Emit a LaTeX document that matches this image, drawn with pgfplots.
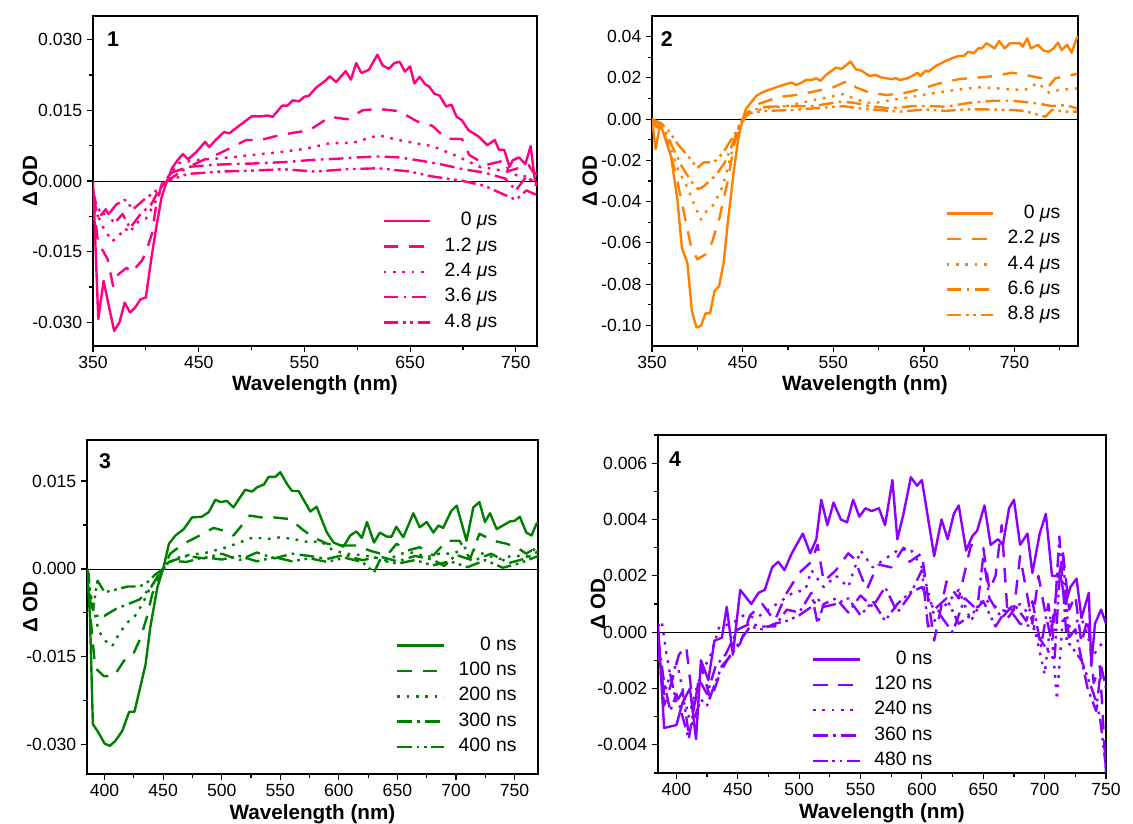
\documentclass[border=0pt]{standalone}
\usepackage{fontspec}
\setmainfont{Liberation Sans}
\usepackage{pgfplots}
\pgfplotsset{compat=1.18}
\definecolor{c1}{RGB}{255,0,128}
\definecolor{c2}{RGB}{255,128,0}
\definecolor{c3}{RGB}{0,128,0}
\definecolor{c4}{RGB}{140,0,255}
\tikzset{
 sdash/.style={dash pattern=on 11pt off 8pt},
 sdot/.style={dash pattern=on 2pt off 5pt},
 sdd/.style={dash pattern=on 11pt off 4pt on 2pt off 4pt},
 sddd/.style={dash pattern=on 11pt off 3.5pt on 2pt off 3.5pt on 2pt off 3.5pt},
}
\pgfplotsset{
 panel/.style={scale only axis, anchor=south west,
  axis line style={line width=1.1pt},
  tick style={line width=0.9pt, black},
  tick align=outside, xtick pos=bottom, ytick pos=left,
  major tick length=4.5pt, minor tick length=3pt,
  scaled y ticks=false, scaled x ticks=false,
  tick label style={font=\fontsize{13.2}{15}\selectfont},
  /pgf/number format/assume math mode=true,
  xlabel={\textbf{Wavelength (nm)}}, ylabel={\textbf{Δ OD}},
  label style={font=\fontsize{15.5}{17}\selectfont},
  xlabel style={at={(axis description cs:0.5,-0.118)}, anchor=center},
  legend style={draw=none, fill=none, font=\fontsize{14.5}{16}\selectfont,
   cells={anchor=east}, row sep=4pt, column sep=9pt, inner sep=0pt,
   nodes={inner sep=1pt, text height=10pt, text depth=3pt}},
  legend image code/.code={\draw[##1] (0pt,0pt) -- (35pt,0pt);},
  every axis plot/.append style={line width=1.8pt, line join=round},
 },
}
\begin{document}
\begin{tikzpicture}
\useasboundingbox (0,0) rectangle (849.75pt,618pt);
% ---------------- Panel 1 ----------------
\begin{axis}[panel, at={(69.75pt,358.5pt)}, width=333pt, height=247.5pt,
 xmin=350, xmax=770, ymin=-0.035, ymax=0.035,
 xtick={350,450,550,650,750}, minor xtick={400,500,600,700},
 ytick={-0.03,-0.015,0,0.015,0.03}, minor ytick={-0.0225,-0.0075,0.0075,0.0225},
 yticklabel style={/pgf/number format/.cd, fixed, fixed zerofill, precision=3},
 ylabel style={at={(axis description cs:-0.142,0.5)}, anchor=center},
 legend style={at={(axis description cs:0.914,0.409)}, anchor=north east}]
\addplot[forget plot, black, line width=0.6pt] coordinates {(350,0) (770,0)};
\addplot[c1] coordinates {(350,0) (355,-0.0293) (360,-0.0212) (370,-0.0318) (375,-0.0300) (380,-0.0258) (385,-0.0279) (390,-0.0268) (395,-0.0251) (400,-0.0247) (405,-0.0167) (410,-0.0096) (415,-0.0033) (420,0.0000) (425,0.0028) (430,0.0044) (435,0.0057) (440,0.0046) (448,0.0062) (456,0.0083) (460,0.0072) (466,0.0087) (474,0.0104) (479,0.0101) (487,0.0115) (500,0.0137) (509,0.0137) (515,0.0139) (520,0.0136) (529,0.0160) (534,0.0160) (539,0.0171) (545,0.0169) (550,0.0179) (554,0.0180) (561,0.0198) (570,0.0213) (574,0.0222) (580,0.0210) (589,0.0233) (594,0.0215) (599,0.0250) (604,0.0229) (611,0.0236) (619,0.0268) (624,0.0245) (630,0.0238) (635,0.0250) (640,0.0253) (645,0.0232) (650,0.0243) (654,0.0207) (659,0.0221) (664,0.0206) (668,0.0200) (673,0.0185) (678,0.0181) (684,0.0158) (689,0.0162) (694,0.0136) (699,0.0129) (705,0.0108) (715,0.0094) (723,0.0076) (730,0.0087) (734,0.0066) (739,0.0066) (744,0.0030) (747,0.0044) (753,0.0050) (759,0.0036) (764,0.0074) (768,0.0002) (770,-0.0010)};
\addlegendentry{0 \textit{μ}s}
\addplot[c1, sdash] coordinates {(350,-0.004) (355,-0.0135) (360,-0.0150) (364,-0.0167) (369,-0.0223) (374,-0.0198) (382,-0.0184) (386,-0.0194) (396,-0.0170) (400,-0.0152) (406,-0.0110) (410,-0.0047) (416,0.0000) (425,0.0018) (440,0.0030) (455,0.0045) (470,0.0059) (495,0.0087) (509,0.0087) (526,0.0097) (555,0.0108) (574,0.0136) (591,0.0131) (605,0.0150) (620,0.0153) (640,0.0148) (656,0.0127) (671,0.0117) (684,0.0090) (699,0.0089) (706,0.0055) (722,0.0034) (740,0.0044) (743,0.0021) (762,0.0034) (767,0.0017) (770,0.0015)};
\addlegendentry{1.2 \textit{μ}s}
\addplot[c1, sdot] coordinates {(350,-0.002) (352,-0.0060) (359,-0.0096) (368,-0.0128) (374,-0.0118) (380,-0.0100) (385,-0.0110) (390,-0.0090) (400,-0.0080) (410,-0.0040) (418,0.0000) (431,0.0038) (450,0.0045) (470,0.0048) (500,0.0055) (526,0.0061) (550,0.0068) (574,0.0080) (596,0.0081) (620,0.0097) (639,0.0087) (655,0.0080) (671,0.0074) (694,0.0053) (716,0.0030) (730,0.0025) (744,0.0019) (755,0.0008) (762,0.0012) (768,-0.0010) (770,-0.0008)};
\addlegendentry{2.4 \textit{μ}s}
\addplot[c1, sdd] coordinates {(350,-0.003) (355,-0.008) (362,-0.006) (370,-0.009) (378,-0.007) (385,-0.010) (395,-0.007) (405,-0.005) (412,-0.002) (420,0.000) (440,0.0030) (470,0.0035) (500,0.0037) (530,0.0040) (560,0.0045) (580,0.0047) (600,0.0050) (620,0.0052) (640,0.0050) (660,0.0043) (680,0.0035) (700,0.0025) (720,0.0018) (740,0.0005) (750,-0.0020) (760,0.0010) (770,-0.0010)};
\addlegendentry{3.6 \textit{μ}s}
\addplot[c1, sddd] coordinates {(350,-0.002) (353,-0.005) (358,-0.007) (365,-0.007) (372,-0.005) (380,-0.004) (388,-0.006) (398,-0.004) (410,-0.002) (420,0.000) (440,0.0015) (470,0.0020) (500,0.0022) (530,0.0025) (560,0.0020) (590,0.0025) (620,0.0027) (650,0.0020) (670,0.0010) (700,0.0000) (720,-0.0010) (740,-0.0030) (750,-0.0040) (760,-0.0020) (770,-0.0030)};
\addlegendentry{4.8 \textit{μ}s}
\node[font=\bfseries\fontsize{16}{18}\selectfont] at (axis description cs:0.045,0.93) {1};
\end{axis}
% ---------------- Panel 2 ----------------
\begin{axis}[panel, at={(489pt,358.5pt)}, width=319.5pt, height=247.5pt,
 xmin=350, xmax=820, ymin=-0.11, ymax=0.05,
 xtick={350,450,550,650,750}, minor xtick={400,500,600,700,800},
 ytick={-0.1,-0.08,-0.06,-0.04,-0.02,0,0.02,0.04}, minor ytick={-0.09,-0.07,-0.05,-0.03,-0.01,0.01,0.03},
 yticklabel style={/pgf/number format/.cd, fixed, fixed zerofill, precision=2},
 ylabel style={at={(axis description cs:-0.146,0.5)}, anchor=center},
 legend style={at={(axis description cs:0.962,0.432)}, anchor=north east}]
\addplot[forget plot, black, line width=0.6pt] coordinates {(350,0) (820,0)};
\addplot[c2] coordinates {(350,0) (354,-0.0145) (359,-0.002) (371,-0.018) (378,-0.039) (383,-0.0624) (389,-0.0697) (394,-0.093) (399,-0.101) (404,-0.1003) (409,-0.0942) (414,-0.0942) (419,-0.0834) (424,-0.081) (429,-0.0697) (434,-0.0487) (440,-0.026) (445,-0.010) (450,0.000) (454,0.0052) (465,0.0112) (471,0.0128) (480,0.0144) (491,0.0160) (498,0.0170) (504,0.0177) (509,0.0165) (515,0.0177) (520,0.0190) (526,0.0190) (531,0.0198) (536,0.0186) (542,0.0214) (553,0.0250) (559,0.0243) (569,0.0279) (575,0.0241) (581,0.0235) (590,0.0209) (597,0.0214) (603,0.0202) (614,0.0194) (619,0.0198) (624,0.0190) (632,0.0198) (639,0.0214) (643,0.0225) (646,0.0209) (652,0.0235) (655,0.0230) (663,0.0257) (674,0.0282) (681,0.0295) (688,0.0306) (694,0.0306) (699,0.0327) (705,0.0319) (710,0.0343) (714,0.0343) (719,0.0368) (728,0.0343) (733,0.0379) (739,0.0343) (745,0.0368) (756,0.0368) (759,0.0351) (764,0.0392) (768,0.0343) (776,0.0360) (782,0.0332) (788,0.0327) (793,0.0343) (798,0.0371) (802,0.0335) (808,0.0360) (813,0.0322) (819,0.0397) (820,0.0400)};
\addlegendentry{0 \textit{μ}s}
\addplot[c2, sdash] coordinates {(350,0) (355,-0.004) (359,-0.002) (366,-0.010) (376,-0.026) (386,-0.047) (393,-0.0616) (400,-0.068) (409,-0.0656) (416,-0.060) (424,-0.0487) (433,-0.031) (441,-0.0116) (448,-0.002) (452,0.000) (454,0.0028) (469,0.0076) (491,0.0108) (509,0.0117) (528,0.0133) (550,0.0154) (566,0.0186) (575,0.0154) (590,0.0128) (608,0.0117) (627,0.0125) (645,0.0144) (667,0.0173) (689,0.0194) (711,0.0202) (729,0.0209) (747,0.0225) (762,0.0214) (780,0.0198) (788,0.0160) (795,0.0198) (819,0.0219)};
\addlegendentry{2.2 \textit{μ}s}
\addplot[c2, sdot] coordinates {(350,0) (355,-0.003) (362,-0.005) (371,-0.015) (379,-0.0245) (390,-0.034) (397,-0.042) (404,-0.0487) (411,-0.044) (418,-0.0415) (428,-0.0326) (437,-0.018) (444,-0.005) (450,0.000) (454,0.0020) (473,0.0052) (498,0.0063) (528,0.0092) (561,0.0121) (575,0.0096) (593,0.0076) (614,0.0092) (637,0.0108) (659,0.0125) (684,0.0141) (710,0.0154) (732,0.0149) (747,0.0144) (761,0.0141) (776,0.0176) (788,0.0128) (799,0.0141) (819,0.0149)};
\addlegendentry{4.4 \textit{μ}s}
\addplot[c2, sdd] coordinates {(350,0) (355,-0.002) (362,-0.003) (372,-0.013) (383,-0.023) (393,-0.030) (401,-0.034) (407,-0.0326) (421,-0.027) (431,-0.0205) (438,-0.013) (445,-0.005) (450,0.000) (458,0.0040) (476,0.0060) (505,0.0063) (528,0.0063) (557,0.0084) (572,0.0080) (590,0.0063) (612,0.0052) (637,0.0063) (659,0.0063) (674,0.0060) (702,0.0080) (728,0.0089) (747,0.0089) (776,0.0076) (791,0.0063) (806,0.0068) (819,0.0052)};
\addlegendentry{6.6 \textit{μ}s}
\addplot[c2, sddd] coordinates {(350,0) (355,-0.001) (360,-0.002) (369,-0.006) (379,-0.0125) (390,-0.018) (400,-0.0237) (407,-0.021) (418,-0.021) (428,-0.0166) (435,-0.0116) (442,-0.0068) (450,0.000) (458,0.0030) (476,0.0040) (505,0.0044) (528,0.0052) (561,0.0063) (579,0.0052) (601,0.0044) (623,0.0036) (652,0.0047) (674,0.0040) (696,0.0047) (718,0.0047) (747,0.0044) (761,0.0040) (784,0.0011) (791,0.0044) (806,0.0036) (819,0.0036)};
\addlegendentry{8.8 \textit{μ}s}
\node[font=\bfseries\fontsize{16}{18}\selectfont] at (axis description cs:0.035,0.93) {2};
\end{axis}
% ---------------- Panel 3 ----------------
\begin{axis}[panel, at={(65.25pt,37.5pt)}, width=338.25pt, height=250.5pt,
 xmin=385, xmax=770, ymin=-0.035, ymax=0.022,
 xtick={400,450,...,750}, minor xtick={425,475,...,725},
 ytick={-0.03,-0.015,0,0.015}, minor ytick={-0.0225,-0.0075,0.0075},
 yticklabel style={/pgf/number format/.cd, fixed, fixed zerofill, precision=3},
 ylabel style={at={(axis description cs:-0.126,0.5)}, anchor=center},
 xlabel style={at={(axis description cs:0.5,-0.12)}},
 legend style={at={(axis description cs:0.956,0.415)}, anchor=north east}]
\addplot[forget plot, black, line width=0.6pt] coordinates {(385,0) (770,0)};
\addplot[c3] coordinates {(385,0.000) (386,-0.003) (387.5,-0.008) (390,-0.0265) (395,-0.0280) (400,-0.0298) (404.5,-0.0302) (409,-0.0294) (415,-0.0277) (421,-0.0244) (425.5,-0.0244) (430,-0.0206) (435,-0.0163) (439,-0.0100) (445,-0.0032) (450,0.000) (455,0.0043) (460.5,0.0057) (467.6,0.0068) (474.7,0.0088) (483,0.0089) (489,0.0097) (494.6,0.0118) (499,0.0114) (504.5,0.0116) (510,0.0105) (520,0.0135) (526,0.0132) (530,0.0139) (536,0.0144) (540,0.0157) (545.7,0.0157) (550,0.0165) (555.7,0.0145) (560,0.0133) (565.6,0.0133) (575.6,0.0098) (581,0.0106) (589.8,0.0062) (595.5,0.0045) (604,0.0038) (609.7,0.0057) (615,0.0064) (619.6,0.0053) (624,0.0080) (630,0.0045) (635,0.0062) (641,0.0055) (645,0.0055) (649,0.0072) (655,0.0054) (663.6,0.0095) (669,0.0071) (675,0.0080) (680.7,0.0062) (685,0.0074) (689,0.0070) (696,0.0099) (700.6,0.0108) (709,0.0048) (714.8,0.0105) (720,0.0114) (724.7,0.0080) (729,0.0095) (734.7,0.0068) (740,0.0074) (746,0.0081) (750,0.0082) (754.5,0.0089) (760,0.0062) (764.5,0.0057) (768.7,0.0077) (770,0.0079)};
\addlegendentry{0 ns}
\addplot[c3, sdash] coordinates {(385,0.000) (386.6,-0.001) (388,-0.0083) (392,-0.0169) (399.4,-0.0183) (408,-0.0183) (416.5,-0.0157) (425,-0.0143) (430.7,-0.0118) (436,-0.0083) (440.6,-0.0044) (446,-0.0015) (450,0.000) (456,0.0026) (467.6,0.0043) (486,0.0062) (493,0.0070) (502,0.0065) (510,0.0057) (524,0.0091) (533,0.0088) (544,0.0088) (558.5,0.0085) (568.5,0.0068) (578,0.0054) (590,0.0043) (604,0.0040) (615,0.0040) (626.7,0.0031) (641,0.0023) (649.4,0.0043) (658,0.0031) (669,0.0037) (680.7,0.0023) (692,0.0048) (703,0.0048) (712,0.0017) (720,0.0060) (732,0.0048) (743,0.0043) (751.7,0.0037) (760,0.0026) (768.7,0.0037) (770,0.0038)};
\addlegendentry{100 ns}
\addplot[c3, sdot] coordinates {(385,0.000) (388,-0.0044) (395,-0.0106) (400.9,-0.0123) (406.5,-0.0132) (412,-0.0112) (419,-0.0092) (425,-0.0083) (432,-0.0061) (439,-0.0032) (447.7,-0.0010) (450,0.000) (459,0.0017) (470,0.0023) (487.5,0.0028) (504.5,0.0037) (527,0.0054) (538.6,0.0051) (550,0.0054) (561,0.0051) (575.6,0.0045) (584,0.0048) (595.5,0.0031) (607,0.0026) (621,0.0023) (629.5,0.0020) (641,0.0014) (652,0.0026) (663.6,0.0028) (675,0.0020) (686,0.0026) (697.7,0.0026) (709,0.0037) (717.6,0.0031) (726,0.0023) (737.5,0.0017) (749,0.0023) (760,0.0020) (768.7,0.0037) (770,0.0036)};
\addlegendentry{200 ns}
\addplot[c3, sdd] coordinates {(385,0.000) (388,-0.006) (393,-0.008) (400,-0.008) (410,-0.0068) (420,-0.006) (430,-0.0052) (440,-0.003) (446,-0.001) (450,0.000) (455,0.0012) (470,0.0022) (485,0.0018) (500,0.0026) (515,0.0015) (530,0.0028) (545,0.0018) (560,0.0026) (575,0.0022) (590,0.0017) (605,0.0024) (620,0.0015) (635,0.0021) (650,0.0013) (665,0.0022) (680,0.0016) (690,0.0005) (700,0.0024) (715,0.0014) (730,0.0026) (745,0.0010) (760,0.0018) (770,0.0030)};
\addlegendentry{300 ns}
\addplot[c3, sddd] coordinates {(385,0.000) (387,-0.003) (390,-0.007) (394,-0.002) (400,-0.004) (410,-0.0035) (420,-0.003) (430,-0.003) (437,-0.0022) (443,-0.001) (450,0.000) (455,0.0014) (470,0.0012) (485,0.0020) (500,0.0016) (515,0.0022) (530,0.0013) (545,0.0020) (560,0.0013) (575,0.0018) (590,0.0012) (605,0.0019) (620,0.0012) (630,-0.0006) (635,0.0015) (650,0.0009) (665,0.0015) (680,0.0006) (695,0.0013) (710,0.0003) (725,0.0015) (740,0.0002) (755,0.0010) (770,0.0022)};
\addlegendentry{400 ns}
\node[font=\bfseries\fontsize{16}{18}\selectfont] at (axis description cs:0.04,0.937) {3};
\end{axis}
% ---------------- Panel 4 ----------------
\begin{axis}[panel, at={(493.5pt,38.25pt)}, width=336pt, height=253.5pt,
 xmin=385, xmax=750, ymin=-0.005, ymax=0.007,
 xtick={400,450,...,750}, minor xtick={425,475,...,725},
 ytick={-0.004,-0.002,0,0.002,0.004,0.006}, minor ytick={-0.005,-0.003,-0.001,0.001,0.003,0.005,0.007},
 yticklabel style={/pgf/number format/.cd, fixed, fixed zerofill, precision=3},
 ylabel style={at={(axis description cs:-0.134,0.5)}, anchor=center},
 legend style={at={(axis description cs:0.616,0.366)}, anchor=north east}]
\addplot[forget plot, black, line width=0.6pt] coordinates {(385,0) (750,0)};
\addplot[c4] coordinates {(385,0.0003) (390,-0.0034) (400,-0.0033) (405,-0.0025) (411,-0.0020) (416,-0.0038) (420,-0.0010) (426,-0.0017) (431,-0.0003) (437,-0.0002) (441,0.0009) (446,-0.0008) (452,0.0015) (461,0.0010) (467,0.0014) (472,0.0015) (478,0.0023) (483,0.0025) (488,0.0022) (494,0.0028) (503,0.0035) (509,0.0028) (514,0.0033) (518,0.0047) (523,0.0038) (528,0.0046) (534,0.0040) (539,0.0039) (544,0.0047) (549,0.0041) (554,0.0044) (559,0.0043) (565,0.0044) (570,0.0038) (576,0.0054) (580,0.0033) (585,0.0042) (591,0.0055) (596,0.0052) (600,0.0054) (610,0.0027) (616,0.0040) (621,0.0033) (626,0.0042) (630,0.0045) (636,0.0029) (641,0.0034) (645,0.0036) (651,0.0045) (656,0.0031) (662,0.0033) (666,0.0031) (671,0.0044) (675,0.0047) (680,0.0031) (686,0.0035) (690,0.0021) (696,0.0035) (701,0.0042) (706,0.0020) (713,0.0020) (717,0.0010) (721,0.0016) (726,0.0019) (730,0.0005) (736,0.0014) (738,-0.0012) (741,0.0003) (746,0.0008) (750,0.0003)};
\addlegendentry{0 ns}
\addplot[c4, sdash] coordinates {(385,-0.0005) (390,-0.0026) (396,-0.0018) (402,-0.0008) (408,-0.0005) (414,-0.0028) (420,-0.0012) (428,-0.0024) (436,-0.0014) (444,-0.0008) (452,-0.0004) (460,0.0006) (470,0.0010) (480,0.0004) (490,0.0014) (500,0.0021) (510,0.0025) (515,0.0031) (520,0.0018) (530,0.0022) (540,0.0028) (545,0.0026) (555,0.0015) (560,0.0020) (565,0.0024) (575,0.0023) (585,0.0030) (590,0.0025) (600,0.0028) (605,0.0012) (610,-0.0003) (620,0.0018) (630,0.0012) (640,0.0031) (650,0.0030) (655,0.0015) (660,0.0020) (665,0.0038) (670,0.0005) (675,0.0008) (680,0.0027) (685,0.0015) (690,0.0003) (695,0.0020) (700,0.0008) (705,-0.0002) (710,0.0016) (715,0.0028) (720,0.0008) (725,0.0013) (730,-0.0004) (735,0.0005) (740,-0.0018) (745,-0.0012) (750,-0.0050)};
\addlegendentry{120 ns}
\addplot[c4, sdot] coordinates {(385,0.0002) (388,0.0004) (392,-0.0008) (396,-0.0018) (400,-0.0010) (405,-0.0020) (410,-0.0030) (415,-0.0022) (420,-0.0015) (428,-0.0008) (435,0.0002) (445,0.0003) (455,0.0006) (465,0.0005) (475,0.0008) (485,0.0011) (495,0.0014) (505,0.0015) (510,0.0022) (520,0.0016) (530,0.0020) (540,0.0016) (550,0.0029) (560,0.0023) (570,0.0026) (580,0.0029) (590,0.0030) (600,0.0023) (610,0.0006) (620,0.0010) (630,0.0015) (640,0.0004) (650,0.0012) (660,0.0009) (670,0.0007) (680,0.0010) (690,0.0005) (700,-0.0015) (705,0.0004) (710,-0.0024) (715,0.0006) (720,0.0002) (730,0.0005) (740,-0.0008) (750,-0.0002)};
\addlegendentry{240 ns}
\addplot[c4, sdd] coordinates {(385,-0.0002) (390,-0.0018) (395,-0.0028) (400,-0.0022) (405,-0.0030) (410,-0.0038) (415,-0.0025) (420,-0.0018) (425,-0.0022) (432,-0.0012) (440,-0.0008) (450,0.0001) (460,0.0003) (470,0.0002) (480,0.0002) (490,0.0008) (500,0.0007) (510,0.0014) (515,0.0003) (520,0.0010) (530,0.0012) (540,0.0007) (550,0.0013) (560,0.0009) (570,0.0016) (580,0.0007) (590,0.0013) (600,0.0022) (605,0.0002) (615,0.0006) (625,0.0000) (635,0.0012) (645,0.0008) (650,0.0027) (655,0.0012) (665,0.0005) (675,0.0010) (685,0.0004) (690,0.0011) (697,-0.0005) (703,0.0010) (707,-0.0002) (712,0.0034) (718,-0.0003) (725,0.0001) (735,-0.0020) (742,-0.0028) (746,-0.0012) (750,-0.0020)};
\addlegendentry{360 ns}
\addplot[c4, sddd] coordinates {(385,-0.0005) (390,-0.0022) (395,-0.0015) (400,-0.0025) (405,-0.0021) (410,-0.0036) (415,-0.0030) (420,-0.0024) (425,-0.0026) (430,-0.0020) (437,-0.0012) (445,-0.0008) (452,-0.0003) (460,0.0002) (470,0.0001) (480,0.0003) (490,0.0004) (500,0.0006) (510,0.0009) (515,0.0012) (520,0.0009) (530,0.0010) (540,0.0012) (550,0.0006) (560,0.0011) (570,0.0004) (580,0.0010) (590,0.0014) (600,0.0016) (610,0.0008) (620,0.0012) (630,0.0003) (640,0.0006) (650,0.0011) (660,0.0002) (670,0.0009) (680,0.0003) (690,0.0002) (700,-0.0005) (708,-0.0010) (712,0.0018) (715,0.0027) (720,-0.0004) (730,-0.0010) (740,-0.0022) (745,-0.0030) (750,-0.0048)};
\addlegendentry{480 ns}
\node[font=\bfseries\fontsize{16}{18}\selectfont] at (axis description cs:0.038,0.929) {4};
\end{axis}
\end{tikzpicture}
\end{document}
